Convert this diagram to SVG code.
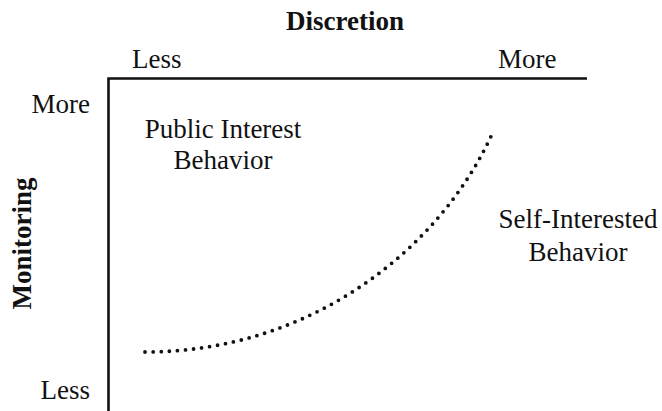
<svg xmlns="http://www.w3.org/2000/svg" width="662" height="411" viewBox="0 0 662 411">
  <style>
    text { font-family: "Liberation Serif", "Times New Roman", serif; font-size: 27px; fill: #111; }
    .title { font-weight: bold; }
    .axis { fill: none; stroke: #111; stroke-width: 2.6; }
    .boundary { fill: none; stroke: #111; stroke-width: 3.8; stroke-linecap: round; stroke-dasharray: 0 8.1; }
  </style>
  <rect width="662" height="411" fill="#fff"/>

  <!-- axes -->
  <g id="axes">
    <path class="axis" d="M108.5,411 V78.5 H587"/>
  </g>

  <!-- horizontal axis labels -->
  <g id="discretion-axis">
    <text class="title" x="345" y="30" text-anchor="middle">Discretion</text>
    <text x="132" y="68">Less</text>
    <text x="498" y="68">More</text>
  </g>

  <!-- vertical axis labels -->
  <g id="monitoring-axis">
    <text class="title" transform="translate(31,243.5) rotate(-90)" text-anchor="middle">Monitoring</text>
    <text x="90" y="113" text-anchor="end">More</text>
    <text x="90" y="399" text-anchor="end">Less</text>
  </g>

  <!-- region labels -->
  <g id="public-interest">
    <text x="223" y="138" text-anchor="middle">Public Interest</text>
    <text x="223" y="169" text-anchor="middle">Behavior</text>
  </g>
  <g id="self-interested">
    <text x="578" y="228" text-anchor="middle">Self-Interested</text>
    <text x="578" y="261" text-anchor="middle">Behavior</text>
  </g>

  <!-- dotted boundary between the two regions -->
  <g id="connectors">
    <path class="boundary" d="M145,352 C310,352 440,250 493,132"/>
  </g>
</svg>
